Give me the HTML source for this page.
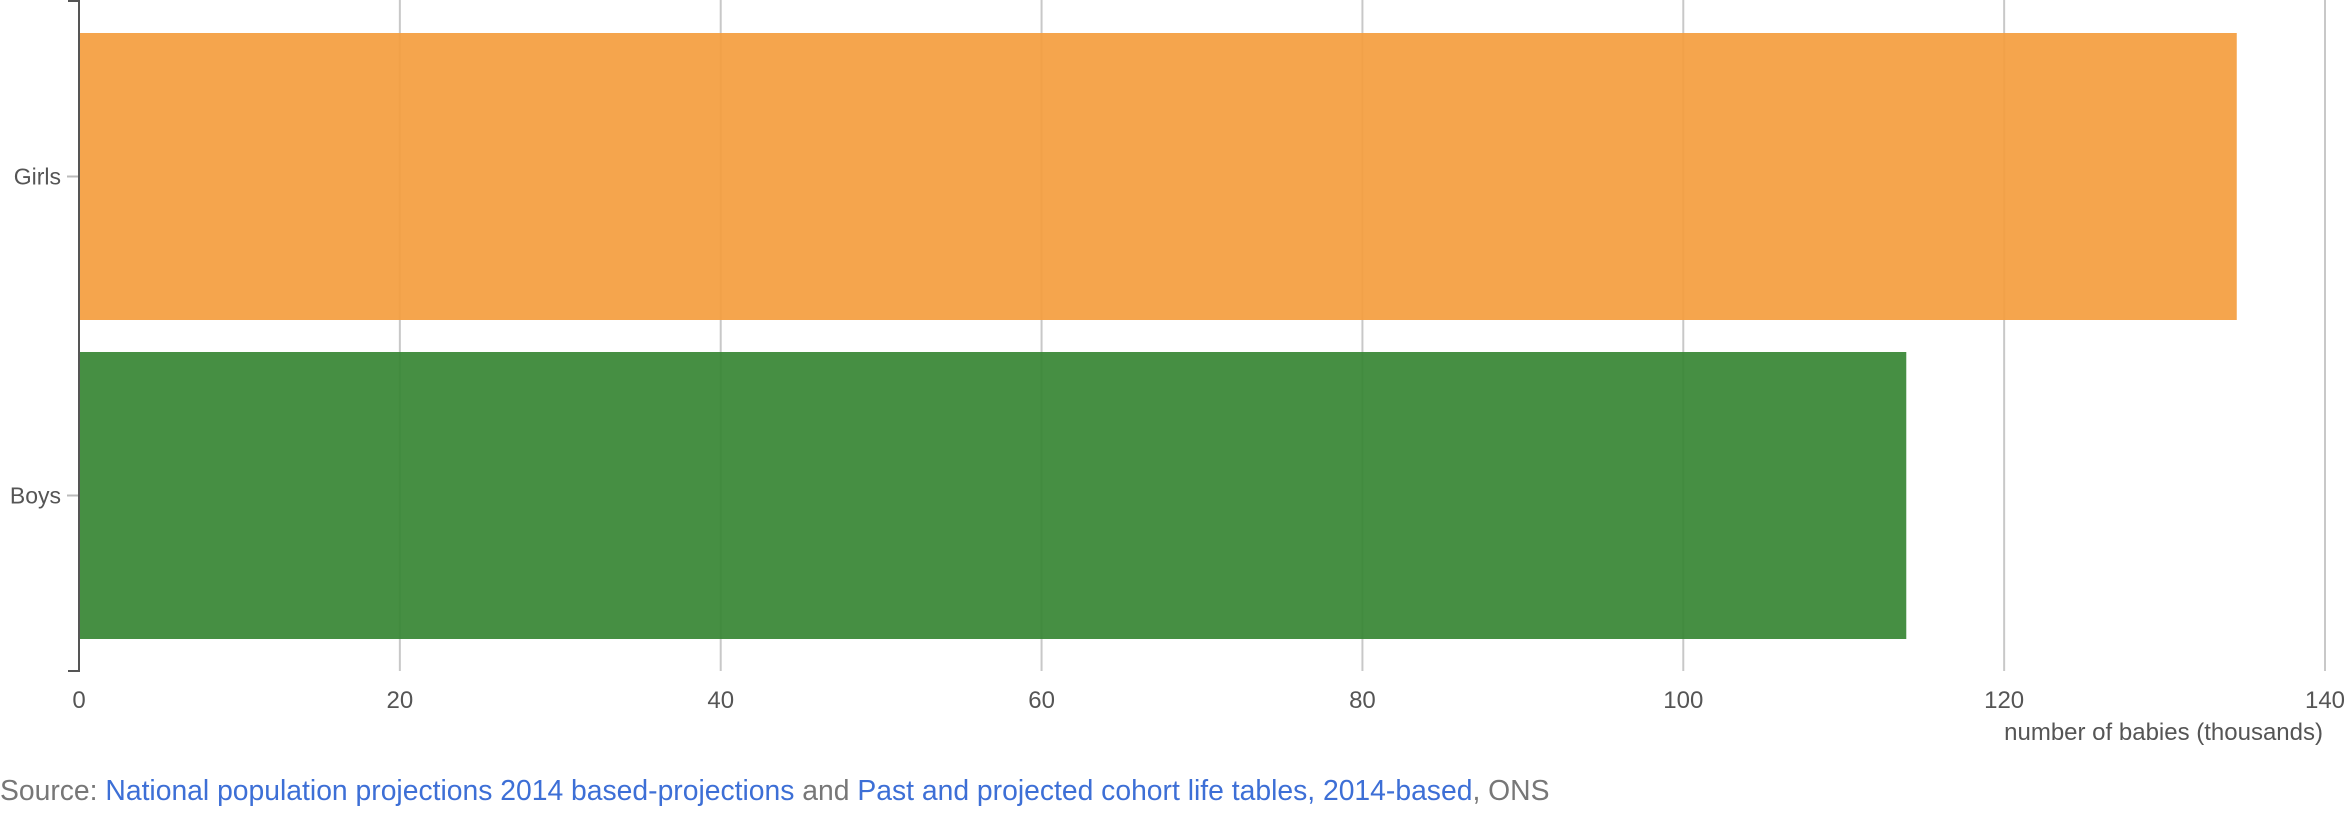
<!DOCTYPE html>
<html><head><meta charset="utf-8"><style>
body{margin:0;background:#fff;width:2345px;height:809px;overflow:hidden;font-family:"Liberation Sans",Arial,sans-serif}
svg text{font-family:"Liberation Sans",Arial,sans-serif}
</style></head><body>
<svg id="chart" width="2345" height="809" xmlns="http://www.w3.org/2000/svg"></svg>
<script>
const categories = ["Girls", "Boys"];
const values = [134.5, 113.9];
const colors = ["#f49d3e", "#368533"];
const xTicks = [0, 20, 40, 60, 80, 100, 120, 140];

const NS = "http://www.w3.org/2000/svg";
const svg = document.getElementById("chart");
const x0 = 79, x1 = 2325, yTop = 1, yBot = 671;
const xScale = v => x0 + (v - 0) / (140 - 0) * (x1 - x0);
const step = (yBot - yTop) / categories.length;

function mk(tag, attrs, parent) {
  const e = document.createElementNS(NS, tag);
  for (const k in attrs) e.setAttribute(k, attrs[k]);
  (parent || svg).appendChild(e);
  return e;
}

const grid = mk("g", {});


xTicks.forEach(t => {
  if (t === 0) return;
  const l = mk("line", {x1: xScale(t), x2: xScale(t), y1: 0, y2: yBot, stroke: "#c8c8c8", "stroke-width": 2}, grid);
  
  
});

const bars = mk("g", {});


categories.forEach((c, i) => {
  const top = yTop + i * step + (i === 0 ? 32 : 16);
  const r = mk("rect", {x: xScale(0), y: top, width: xScale(values[i]) - xScale(0), height: 287, fill: colors[i], "fill-opacity": 0.92}, bars);
  
  
  const cy = top + 287 / 2;
  const tk = mk("line", {x1: 67, x2: 78, y1: cy, y2: cy, stroke: "#bbbbbb", "stroke-width": 2});
  
  
  const lb = mk("text", {x: 61, y: cy + 8, "text-anchor": "end", "font-size": 23, fill: "#555"});
  lb.textContent = c;
  
  
});

const ax = mk("path", {d: `M68 1 H79 V${yBot} H68`, fill: "none", stroke: "#555", "stroke-width": 2});



xTicks.forEach(t => {
  const tx = mk("text", {x: xScale(t), y: 708, "text-anchor": "middle", "font-size": 24, fill: "#555"});
  tx.textContent = t;
  
  
});

const title = mk("text", {x: 2323, y: 740, "text-anchor": "end", "font-size": 24, fill: "#555"});
title.textContent = "number of babies (thousands)";



const src = mk("text", {x: 0, y: 800, "font-size": 28.3, fill: "#777"});


const parts = [["Source: ", "#777", null], ["National population projections 2014 based-projections", "#3d6fd6", "source-link-projections"], [" and ", "#777", null], ["Past and projected cohort life tables, 2014-based", "#3d6fd6", "source-link-life-tables"], [", ONS", "#777", null]];
parts.forEach(p => {
  const s = mk("tspan", {fill: p[1]}, src);
  s.textContent = p[0];
  if (p[2]) {
    
    
  }
});
</script>
</body></html>
